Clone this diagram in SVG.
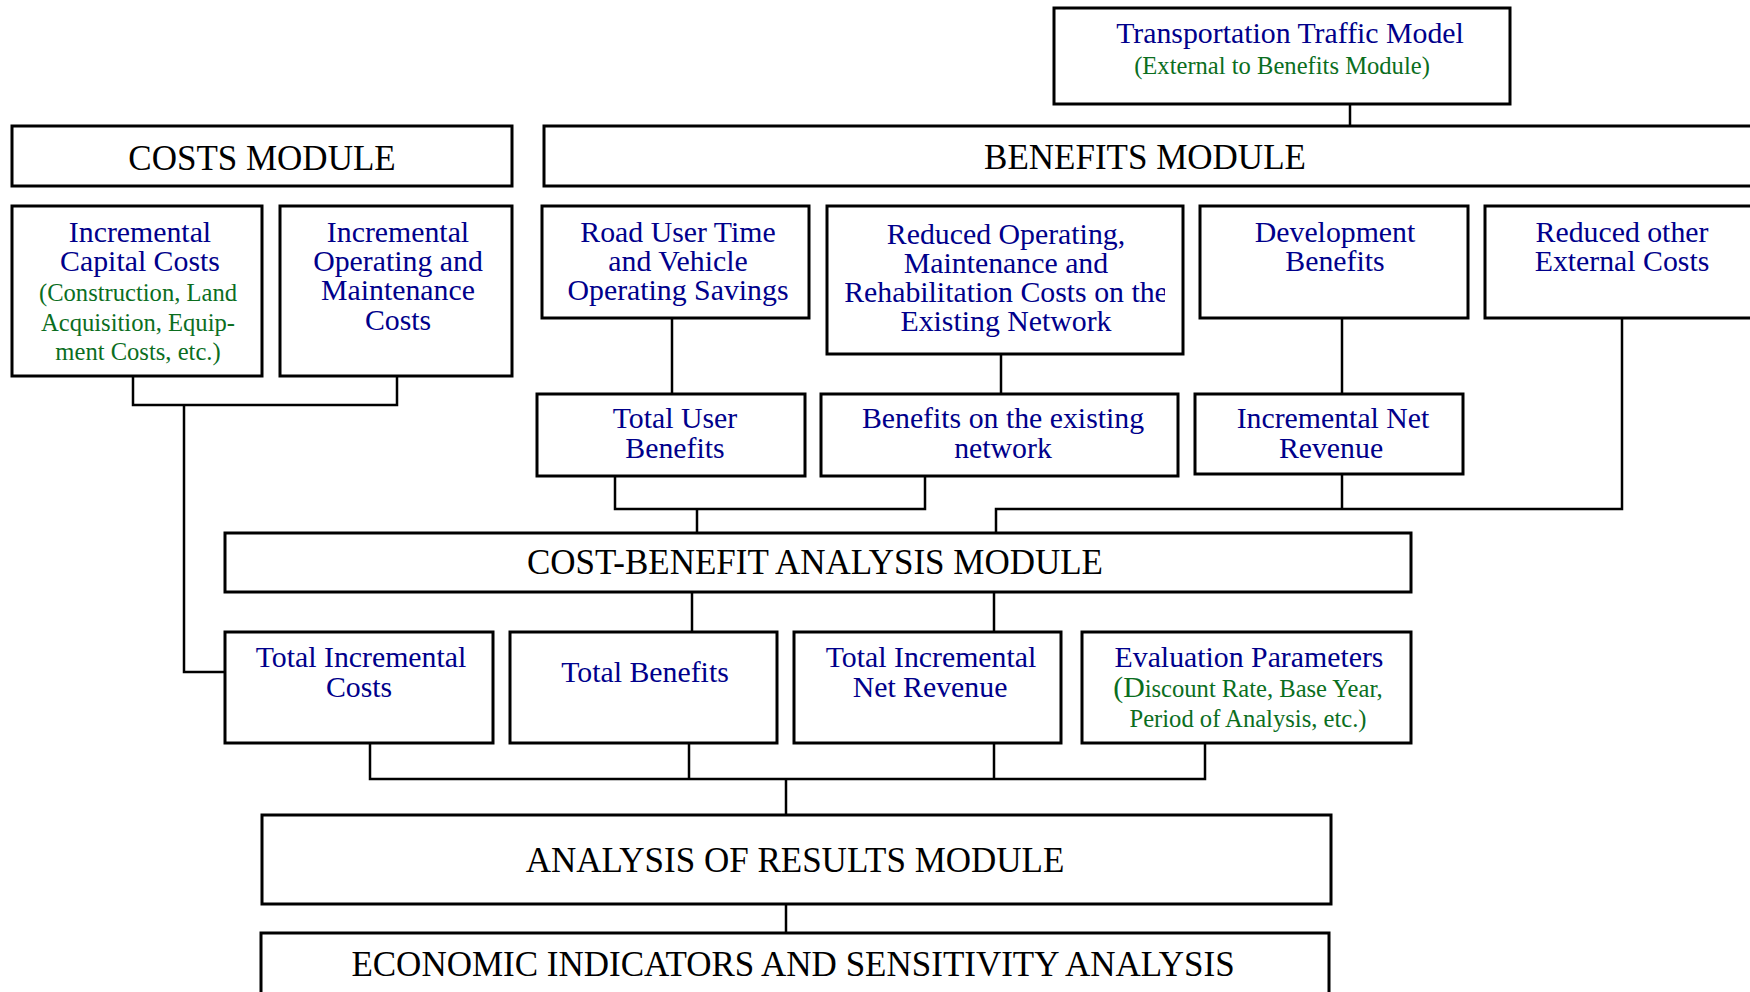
<svg xmlns="http://www.w3.org/2000/svg" width="1750" height="992" viewBox="0 0 1750 992">
<style>
.box{fill:#fff;stroke:#000;stroke-width:3}
.con{fill:none;stroke:#000;stroke-width:2.5}
text{font-family:"Liberation Serif","Times New Roman",serif;text-anchor:middle}
.m{font-size:35px;fill:#000}
.b{font-size:29.8px;fill:#00008b}
.g{font-size:24.6px;fill:#0b6e1e}
</style>
<defs>
<clipPath id="clipRO"><rect x="827" y="205" width="338" height="150"/></clipPath>
</defs>
<rect x="0" y="0" width="1750" height="992" fill="#fff"/>
<g id="connectors">
<path class="con" d="M1350,104 V126"/>
<path class="con" d="M133,376 V405 H397 V376"/>
<path class="con" d="M184,405 V672 H225"/>
<path class="con" d="M672,318 V394"/>
<path class="con" d="M1001,354 V394"/>
<path class="con" d="M1342,318 V394"/>
<path class="con" d="M615,476 V509 H925 V476"/>
<path class="con" d="M697,509 V533"/>
<path class="con" d="M1342,474 V509"/>
<path class="con" d="M1622,318 V509 H996 V533"/>
<path class="con" d="M692,592 V632"/>
<path class="con" d="M994,592 V632"/>
<path class="con" d="M370,743 V779 H1205 V743"/>
<path class="con" d="M689,743 V779"/>
<path class="con" d="M994,743 V779"/>
<path class="con" d="M786,779 V815"/>
<path class="con" d="M786,904 V933"/>
</g>
<g id="traffic-model">
<rect class="box" x="1054" y="8" width="456" height="96"/>
<text class="b" x="1290" y="43">Transportation Traffic Model</text>
<text class="g" x="1282" y="74">(External to Benefits Module)</text>
</g>
<g id="costs-module">
<rect class="box" x="12" y="126" width="500" height="60"/>
<text class="m" x="262" y="170">COSTS MODULE</text>
</g>
<g id="benefits-module">
<rect class="box" x="544" y="126" width="1220" height="60"/>
<text class="m" x="1145" y="169">BENEFITS MODULE</text>
</g>
<g id="incremental-capital-costs">
<rect class="box" x="12" y="206" width="250" height="170"/>
<text class="b" x="140" y="241.5">Incremental</text>
<text class="b" x="140" y="271">Capital Costs</text>
<text class="g" x="138" y="301">(Construction, Land</text>
<text class="g" x="138" y="330.5">Acquisition, Equip-</text>
<text class="g" x="138" y="360">ment Costs, etc.)</text>
</g>
<g id="incremental-om-costs">
<rect class="box" x="280" y="206" width="232" height="170"/>
<text class="b" x="398" y="241.5">Incremental</text>
<text class="b" x="398" y="271">Operating and</text>
<text class="b" x="398" y="300">Maintenance</text>
<text class="b" x="398" y="329.5">Costs</text>
</g>
<g id="road-user-savings">
<rect class="box" x="542" y="206" width="267" height="112"/>
<text class="b" x="678" y="241.5">Road User Time</text>
<text class="b" x="678" y="271">and Vehicle</text>
<text class="b" x="678" y="300">Operating Savings</text>
</g>
<g id="reduced-operating">
<rect class="box" x="827" y="206" width="356" height="148"/>
<g clip-path="url(#clipRO)">
<text class="b" x="1006" y="244">Reduced Operating,</text>
<text class="b" x="1006" y="273">Maintenance and</text>
<text class="b" x="1006" y="302">Rehabilitation Costs on the</text>
<text class="b" x="1006" y="331">Existing Network</text>
</g>
</g>
<g id="development-benefits">
<rect class="box" x="1200" y="206" width="268" height="112"/>
<text class="b" x="1335" y="241.5">Development</text>
<text class="b" x="1335" y="270.5">Benefits</text>
</g>
<g id="reduced-external-costs">
<rect class="box" x="1485" y="206" width="280" height="112"/>
<text class="b" x="1622" y="241.5">Reduced other</text>
<text class="b" x="1622" y="271">External Costs</text>
</g>
<g id="total-user-benefits">
<rect class="box" x="537" y="394" width="268" height="82"/>
<text class="b" x="675" y="428">Total User</text>
<text class="b" x="675" y="458">Benefits</text>
</g>
<g id="benefits-existing-network">
<rect class="box" x="821" y="394" width="357" height="82"/>
<text class="b" x="1003" y="428">Benefits on the existing</text>
<text class="b" x="1003" y="458">network</text>
</g>
<g id="incremental-net-revenue">
<rect class="box" x="1195" y="394" width="268" height="80"/>
<text class="b" x="1333" y="428">Incremental Net</text>
<text class="b" x="1331" y="458">Revenue</text>
</g>
<g id="cba-module">
<rect class="box" x="225" y="533" width="1186" height="59"/>
<text class="m" x="815" y="574">COST-BENEFIT ANALYSIS MODULE</text>
</g>
<g id="total-incremental-costs">
<rect class="box" x="225" y="632" width="268" height="111"/>
<text class="b" x="361" y="667">Total Incremental</text>
<text class="b" x="359" y="697">Costs</text>
</g>
<g id="total-benefits">
<rect class="box" x="510" y="632" width="267" height="111"/>
<text class="b" x="645" y="682">Total Benefits</text>
</g>
<g id="total-incremental-net-revenue">
<rect class="box" x="794" y="632" width="267" height="111"/>
<text class="b" x="931" y="667">Total Incremental</text>
<text class="b" x="930" y="697">Net Revenue</text>
</g>
<g id="evaluation-parameters">
<rect class="box" x="1082" y="632" width="329" height="111"/>
<text class="b" x="1249" y="667">Evaluation Parameters</text>
<text class="g" x="1248" y="697"><tspan style="font-size:29.8px">(D</tspan>iscount Rate, Base Year,</text>
<text class="g" x="1248" y="727">Period of Analysis, etc.)</text>
</g>
<g id="analysis-results-module">
<rect class="box" x="262" y="815" width="1069" height="89"/>
<text class="m" x="795" y="872">ANALYSIS OF RESULTS MODULE</text>
</g>
<g id="economic-indicators">
<rect class="box" x="261" y="933" width="1068" height="80"/>
<text class="m" x="793" y="976">ECONOMIC INDICATORS AND SENSITIVITY ANALYSIS</text>
</g>
</svg>
